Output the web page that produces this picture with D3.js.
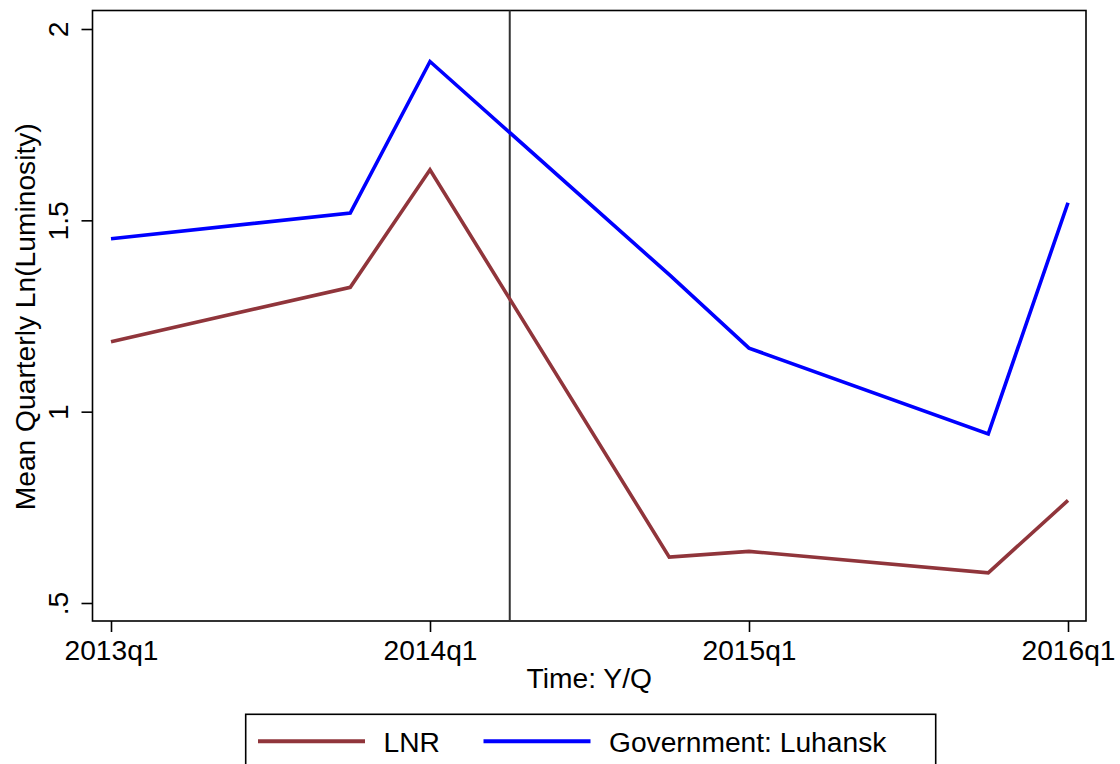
<!DOCTYPE html>
<html><head><meta charset="utf-8">
<script src="https://cdn.jsdelivr.net/npm/d3@7"></script>
<style>
html,body{margin:0;padding:0;background:#fff;}
svg{display:block;font-family:"Liberation Sans",Arial,Helvetica,sans-serif;}
</style></head>
<body>
<svg id="chart" width="1120" height="764"></svg>
<script>
// ---- data ----
const quarters = ["2013q1","2013q4","2014q1","2014q4","2015q1","2015q4","2016q1"];
const lnrValues = [1.183, 1.325, 1.632, 0.620, 0.635, 0.579, 0.768];
const govValues = [1.452, 1.519, 1.915, 1.358, 1.166, 0.942, 1.546];
const seriesNames = ["LNR", "Government: Luhansk"];
const xTickLabels = ["2013q1","2014q1","2015q1","2016q1"];
const yTickValues = [0.5, 1, 1.5, 2];
const yTickLabels = [".5", "1", "1.5", "2"];
const eventQuarter = "2014q2";
const xTitle = "Time: Y/Q";
const yTitle = "Mean Quarterly Ln(Luminosity)";

// ---- helpers ----
const qIndex = s => { const y = +s.slice(0,4), q = +s.slice(5); return (y-2013)*4 + (q-1); };

const svg = d3.select("#chart");
const frame = {left:92.5, top:10.5, right:1086, bottom:621};
const fs = 28.2;

const x = d3.scaleLinear().domain([qIndex("2013q1"), qIndex("2016q1")]).range([111, 1068]);
const y = d3.scaleLinear().domain([0.5, 2]).range([603, 29]);

// frame
svg.append("rect")
  .attr("x", frame.left).attr("y", frame.top)
  .attr("width", frame.right-frame.left).attr("height", frame.bottom-frame.top)
  .attr("fill","none").attr("stroke","#000").attr("stroke-width",1.6);

// event line
svg.append("line")
  .attr("x1", x(qIndex(eventQuarter))).attr("x2", x(qIndex(eventQuarter)))
  .attr("y1", frame.top).attr("y2", frame.bottom)
  .attr("stroke","#333").attr("stroke-width",2);

// x axis
const xAxis = d3.axisBottom(x)
  .tickValues(xTickLabels.map(qIndex))
  .tickFormat((d,i)=>xTickLabels[i])
  .tickSize(11).tickPadding(6).tickSizeOuter(0);
const gx = svg.append("g").attr("transform",`translate(0,${frame.bottom})`).call(xAxis);
gx.select(".domain").remove();
gx.selectAll("line").attr("stroke","#000").attr("stroke-width",1.6);
gx.selectAll("text").attr("font-size",fs).attr("fill","#000").attr("dy",null)
  .attr("y", 38.5);

// y axis
const yAxis = d3.axisLeft(y)
  .tickValues(yTickValues)
  .tickFormat((d,i)=>yTickLabels[i])
  .tickSize(11).tickSizeOuter(0);
const gy = svg.append("g").attr("transform",`translate(${frame.left},0)`).call(yAxis);
gy.select(".domain").remove();
gy.selectAll("line").attr("stroke","#000").attr("stroke-width",1.6);
gy.selectAll("text").attr("font-size",fs).attr("fill","#000")
  .attr("x",null).attr("dy",null)
  .attr("text-anchor","middle")
  .attr("transform","translate(-24.5,0) rotate(-90)")
  .attr("y",0);

// lines
const line = d3.line().x((d,i)=>x(qIndex(quarters[i]))).y(d=>y(d));
svg.append("path").datum(lnrValues).attr("d",line)
  .attr("fill","none").attr("stroke","#90353b").attr("stroke-width",3.6);
svg.append("path").datum(govValues).attr("d",line)
  .attr("fill","none").attr("stroke","#0000ff").attr("stroke-width",3.6);

// axis titles
svg.append("text").attr("x",(frame.left+frame.right)/2).attr("y",688)
  .attr("text-anchor","middle").attr("font-size",fs).text(xTitle);
svg.append("text").attr("transform",`translate(35,${(frame.top+frame.bottom)/2+1}) rotate(-90)`)
  .attr("text-anchor","middle").attr("font-size",fs).text(yTitle);

// legend
svg.append("rect").attr("x",245.7).attr("y",714.3).attr("width",690).attr("height",80)
  .attr("fill","#fff").attr("stroke","#000").attr("stroke-width",1.6);
const legColors = ["#90353b","#0000ff"];
const legLineX = [258, 483.5];
const legTextX = [383.5, 609];
seriesNames.forEach((n,i)=>{
  svg.append("line").attr("x1",legLineX[i]).attr("x2",legLineX[i]+107)
    .attr("y1",741.3).attr("y2",741.3).attr("stroke",legColors[i]).attr("stroke-width",4);
  svg.append("text").attr("x",legTextX[i]).attr("y",752).attr("font-size",fs).text(n);
});
</script>
</body></html>
